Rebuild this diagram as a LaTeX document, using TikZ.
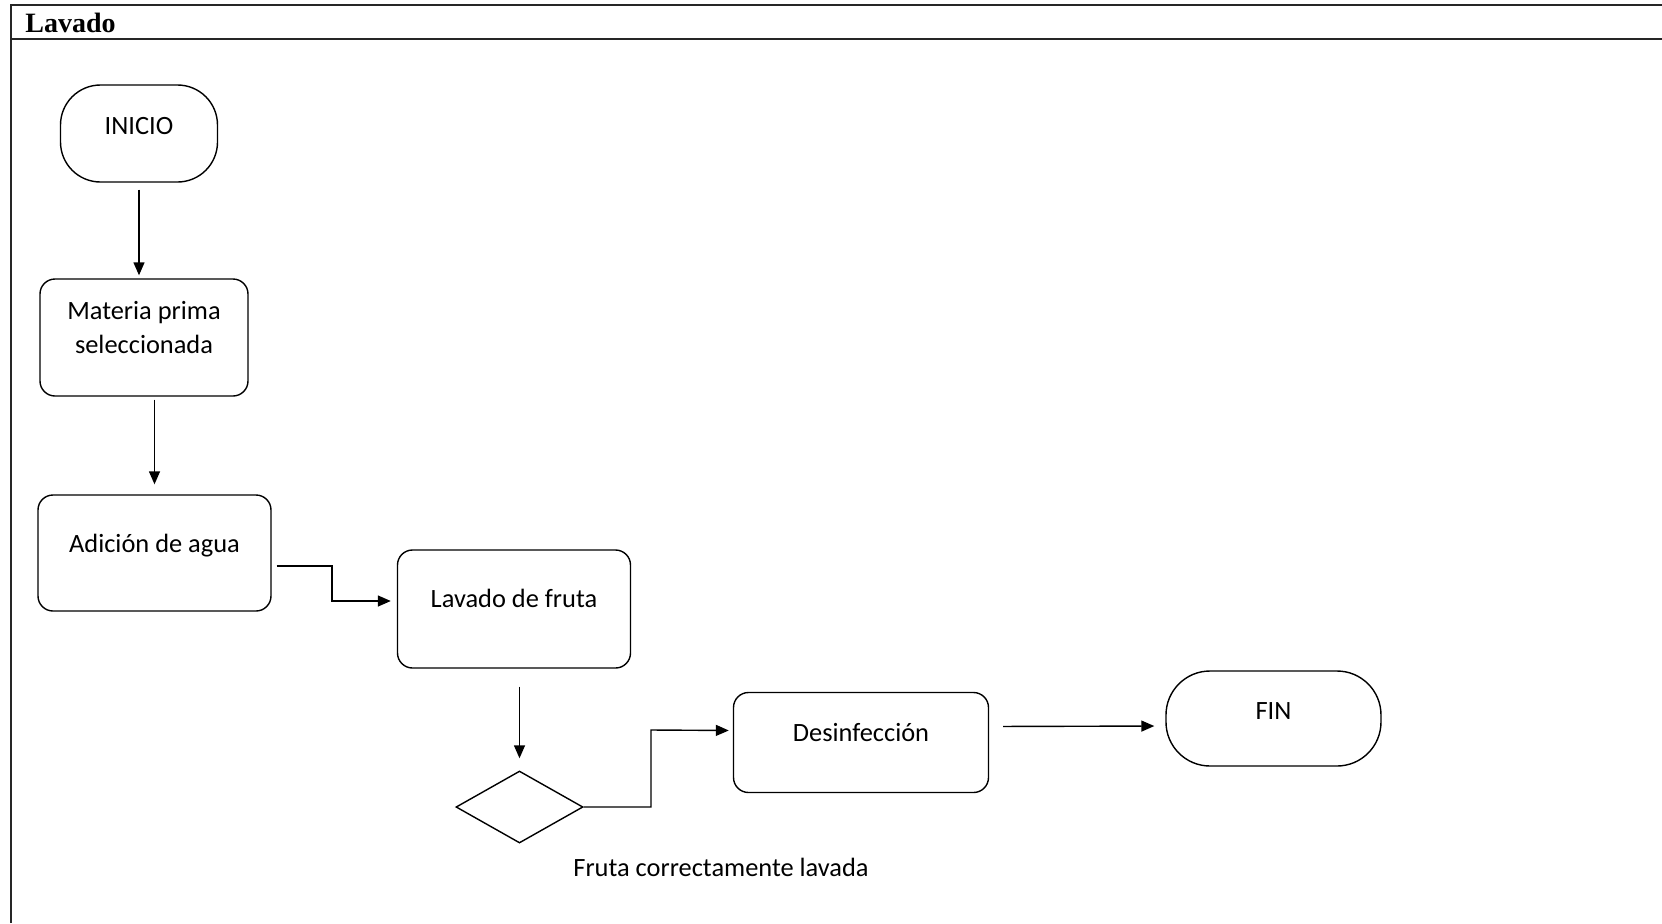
\documentclass[tikz,border=0pt]{standalone}
\usepackage{fontspec}
\setmainfont{Carlito}
\newfontfamily\titlefont{Liberation Serif}
\usetikzlibrary{arrows.meta,shapes.geometric,calc}

\tikzset{
  caja/.style={draw, line width=0.7pt, rounded corners=7.5pt, align=center},
  terminal/.style={draw, line width=0.7pt, rounded corners=#1},
  decision/.style={draw, diamond, line width=0.7pt, inner sep=0pt},
  arriba/.style={text height=8pt, text depth=#1},
  flujo/.style={line width=0.7pt, -{Triangle[length=6.5pt,width=5.5pt]}}
}

\begin{document}
\begin{tikzpicture}[x=0.5pt,y=-0.5pt,font=\fontsize{13.2}{17}\selectfont]
\useasboundingbox (0,0) rectangle (1662,923);
%Marco
\draw[line width=1pt, black!85] (11,923) -- (11,5) -- (1662,5);
\draw[line width=1pt, black!85] (11,39) -- (1662,39);
\node (titulo) [anchor=base west, inner sep=0pt, font=\titlefont\bfseries\fontsize{14}{16}\selectfont] at (25,32) {Lavado};

%Nodos
\node (inicio) [terminal=20pt, arriba=7.2pt, minimum width=78.5pt, minimum height=48.5pt] at (139,133.5) {INICIO};
\node (materia) [caja, text height=26.5pt, text depth=10.5pt, minimum width=104pt, minimum height=58.5pt] at (144,337.5) {Materia prima\\seleccionada};
\node (adicion) [caja, arriba=8.2pt, minimum width=116.5pt, minimum height=58pt] at (154.5,553) {Adición de agua};
\node (lavfruta) [caja, arriba=10pt, minimum width=116.5pt, minimum height=59pt] at (514,609) {Lavado de fruta};
\node (dia) [decision, minimum width=63.5pt, minimum height=36pt] at (519.5,807) {};
\node (desinf) [caja, arriba=9pt, minimum width=127.5pt, minimum height=50pt] at (861,742.5) {Desinfección};
\node (fin) [terminal=22pt, arriba=7.2pt, minimum width=107.5pt, minimum height=47.5pt] at (1273.5,718.5) {FIN};
\node (etiqueta) at (721,867) {Fruta correctamente lavada};

%Conexiones
\path[flujo]
(inicio.south) edge [shorten <=3.5pt, shorten >=1.5pt] (inicio.south |- materia.north)
(adicion.north |- materia.south) edge [shorten <=1.5pt, shorten >=5pt] (adicion.north)
(dia.north |- lavfruta.south) edge [shorten <=9pt, shorten >=6pt] (dia.north)
($(desinf.east)+(0,-16)$) edge [shorten <=7pt, shorten >=5.5pt] ($(fin.west)+(0,7.5)$)
;
\draw[flujo, shorten <=2.5pt, shorten >=3pt] ($(adicion.east)+(0,13)$) -| (332,601) -- ($(lavfruta.west)+(0,-8)$);
\draw[flujo, shorten >=2pt] (dia.east) -| (651,730) -- ($(desinf.west)+(0,-12)$);
\end{tikzpicture}
\end{document}
